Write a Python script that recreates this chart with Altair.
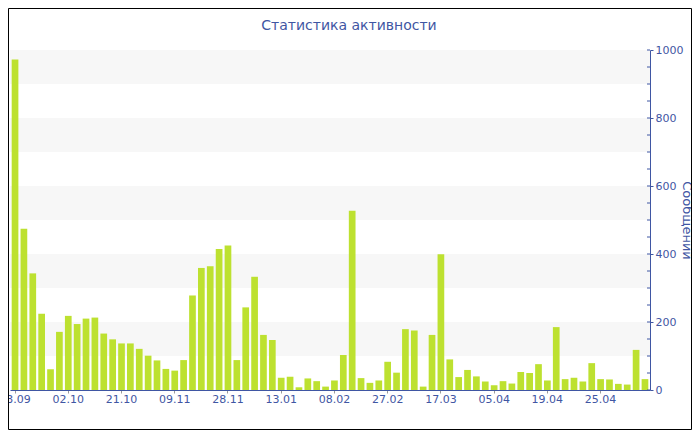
import altair as alt
import pandas as pd

# weekly message counts
values = [972, 474, 343, 224, 61, 171, 218, 194, 210, 213, 166, 149, 137, 137, 121, 101,
          87, 62, 57, 88, 278, 359, 364, 415, 425, 88, 243, 333, 162, 147, 36, 39,
          8, 34, 26, 10, 28, 103, 527, 35, 21, 28, 83, 51, 179, 175, 10, 162,
          399, 90, 38, 59, 40, 25, 14, 26, 19, 53, 50, 76, 28, 185, 32, 36,
          25, 79, 32, 31, 18, 16, 118, 32]
tick_labels = ["03.09", "02.10", "21.10", "09.11", "28.11", "13.01", "08.02",
               "27.02", "17.03", "05.04", "19.04", "25.04"]
tick_every = 6
band_lo = [900, 700, 500, 300, 100]
band_hi = [1000, 800, 600, 400, 200]
minor_ticks = list(range(0, 1001, 50))
major_ticks = list(range(0, 1001, 100))

BLUE = "#3f56a3"
BAR = "#bde130"
W, H = 640, 340
PAD = {"left": 2, "top": 42, "right": 42, "bottom": 40}
TOTAL_W = W + PAD["left"] + PAD["right"]

df = pd.DataFrame({"idx": list(range(len(values))), "msgs": values})
bands = pd.DataFrame({"lo": band_lo, "hi": band_hi})
minor = pd.DataFrame({"v": minor_ticks})

label_arr = "[" + ",".join(f"'{t}'" for t in tick_labels) + "]"
label_expr = f"{label_arr}[floor(datum.value / {tick_every})]"

yscale = alt.Scale(domain=[0, 1000], nice=False)

x_enc = alt.X(
    "idx:O",
    scale=alt.Scale(paddingInner=0.245, paddingOuter=0.19),
    axis=alt.Axis(
        values=list(range(0, len(values), tick_every)),
        labelExpr=label_expr,
        labelAngle=0,
        title=None,
        domainColor=BLUE,
        domainWidth=1.2,
        tickColor="#9a9a9a",
        tickSize=3,
        labelColor=BLUE,
        labelFontSize=11,
        labelFont="DejaVu Sans",
        labelPadding=0,
        grid=False,
    ),
)

y_enc = alt.Y(
    "msgs:Q",
    scale=yscale,
    axis=alt.Axis(
        orient="right",
        values=major_ticks,
        format="d",
        title="Сообщений",
        titleAngle=90,
        titleFontSize=13,
        titleFont="DejaVu Sans",
        titleFontWeight="normal",
        titleColor=BLUE,
        titlePadding=-3,
        domainColor=BLUE,
        tickColor=BLUE,
        tickSize=3,
        labelColor=BLUE,
        labelFontSize=11,
        labelFont="DejaVu Sans",
        labelPadding=2,
        grid=False,
    ),
)

band_layer = alt.Chart(bands).mark_rect(color="#f7f7f7").encode(
    x=alt.value(0), x2=alt.value(W),
    y=alt.Y("lo:Q", scale=yscale), y2="hi:Q",
)

bars = alt.Chart(df).mark_bar(color=BAR).encode(x=x_enc, y=y_enc)

minor_layer = alt.Chart(minor).mark_rule(color=BLUE, strokeWidth=1).encode(
    x=alt.value(W - 3), x2=alt.value(W),
    y=alt.Y("v:Q", scale=yscale),
)

border = alt.Chart(df.head(1)).mark_rect(filled=False, stroke="black", strokeWidth=1).encode(
    x=alt.value(-PAD["left"] + 0.5), x2=alt.value(TOTAL_W - PAD["left"] - 0.5),
    y=alt.value(-PAD["top"] + 0.5), y2=alt.value(H + PAD["bottom"] - 0.5),
)

chart = (
    alt.layer(band_layer, bars, minor_layer, border)
    .properties(
        width=W, height=H,
        title=alt.TitleParams(
            "Статистика активности", fontSize=14, font="DejaVu Sans",
            fontWeight="normal", color=BLUE, dx=19, dy=42, offset=17,
        ),
        autosize=alt.AutoSizeParams(type="none"),
        padding=PAD,
    )
    .configure_view(strokeWidth=0)
)

chart.save("out.html", embed_options={"renderer": "svg", "actions": False})
